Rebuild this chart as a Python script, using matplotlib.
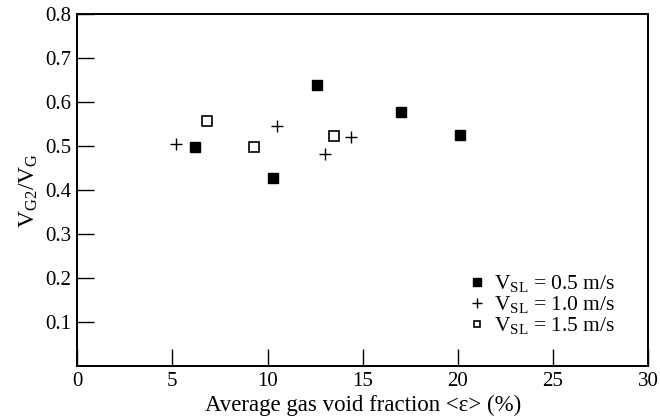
import matplotlib
matplotlib.use("Agg")
import matplotlib.pyplot as plt

plt.rcParams['font.family'] = ['Liberation Serif', 'DejaVu Serif']
plt.rcParams['mathtext.fontset'] = 'custom'
plt.rcParams['mathtext.rm'] = 'Liberation Serif'
plt.rcParams['mathtext.it'] = 'Liberation Serif'

# void fraction (%) and V_G2/V_G for each liquid velocity
eps_05 = [6.2, 10.3, 12.6, 17.0, 20.1]
ratio_05 = [0.498, 0.428, 0.640, 0.578, 0.525]

eps_10 = [5.2, 10.5, 13.0, 14.4]
ratio_10 = [0.505, 0.545, 0.483, 0.520]

eps_15 = [6.8, 9.3, 13.5]
ratio_15 = [0.558, 0.499, 0.523]

labels = [r'$\mathregular{V_{SL}}$ = 0.5 m/s',
          r'$\mathregular{V_{SL}}$ = 1.0 m/s',
          r'$\mathregular{V_{SL}}$ = 1.5 m/s']

fig = plt.figure(figsize=(6.6, 4.17), dpi=100)
ax = fig.add_axes([0.117, 0.122, 0.865, 0.844])

ax.plot(eps_05, ratio_05, 's', color='black', ms=7, label=labels[0])
ax.plot(eps_10, ratio_10, '+', color='black', ms=9, mew=1.0, label=labels[1])
ax.plot(eps_15, ratio_15, 's', mfc='white', mec='black', mew=1.2, ms=6.5, label=labels[2])

ax.set_xlim(0, 30)
ax.set_ylim(0, 0.8)
ax.set_xticks([0, 5, 10, 15, 20, 25, 30])
ax.set_yticks([0.1, 0.2, 0.3, 0.4, 0.5, 0.6, 0.7, 0.8])
ax.set_xticklabels(['0', '5', '10', '15', '20', '25', '30'])
ax.set_yticklabels(['0.1', '0.2', '0.3', '0.4', '0.5', '0.6', '0.7', '0.8'])
ax.tick_params(direction='in', length=12, width=1.0, labelsize=15, pad=4,
               top=False, right=False)
for s in ax.spines.values():
    s.set_linewidth(1.4)

ax.set_xlabel('Average gas void fraction <ε> (%)', fontsize=16.5, labelpad=3)
ax.set_ylabel(r'$\mathregular{V_{G2}/V_G}$', fontsize=17, labelpad=4)

ax.legend(loc='lower right', frameon=False, fontsize=15.5, handlelength=0.6,
          handletextpad=0.5, labelspacing=0.0, borderaxespad=0.0,
          markerscale=0.75, bbox_to_anchor=(0.957, 0.06))

fig.savefig('out.png', dpi=100)
